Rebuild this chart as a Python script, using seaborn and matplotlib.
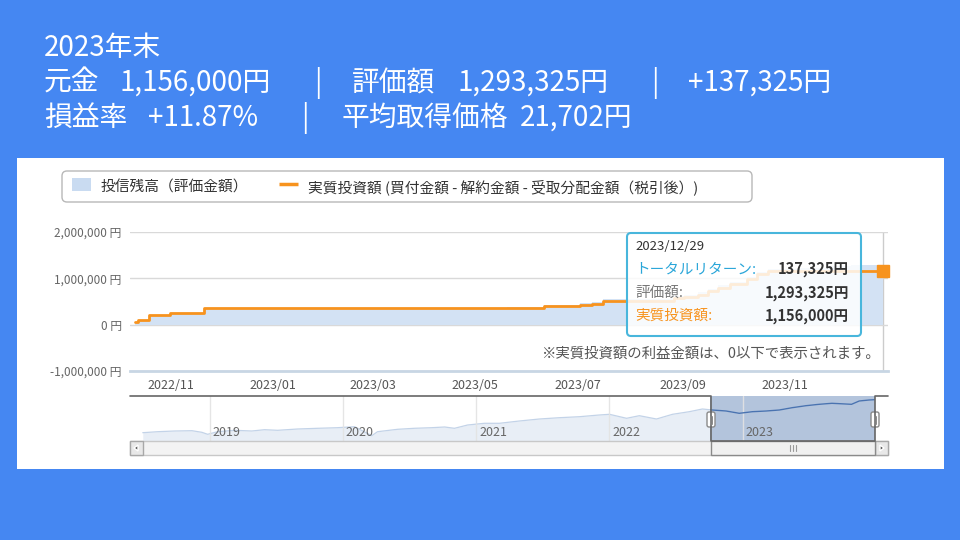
import matplotlib
matplotlib.use("Agg")
import numpy as np
import pandas as pd
import matplotlib.pyplot as plt
import matplotlib.dates as mdates
from matplotlib.patches import Rectangle, FancyBboxPatch, Polygon
from matplotlib.ticker import FuncFormatter
import seaborn as sns

# ---------------- data ----------------
invest_dates = ["2022-10-11", "2022-10-13", "2022-10-19", "2022-11-01", "2022-11-21",
                "2023-06-11", "2023-07-02", "2023-07-09", "2023-07-16", "2023-08-27",
                "2023-09-02", "2023-09-10", "2023-09-16", "2023-09-22", "2023-09-29",
                "2023-10-09", "2023-10-15", "2023-10-22", "2023-12-29"]
invest_values = [50000, 100000, 200000, 250000, 350000,
                 400000, 430000, 450000, 500000, 570000,
                 590000, 650000, 720000, 800000, 880000,
                 980000, 1090000, 1156000, 1156000]

value_dates = ["2022-10-11", "2022-10-13", "2022-10-19", "2022-11-01", "2022-11-21",
               "2022-12-20", "2023-01-20", "2023-02-20", "2023-03-20", "2023-04-20",
               "2023-05-20", "2023-06-11", "2023-07-02", "2023-07-09", "2023-07-16",
               "2023-08-15", "2023-08-27", "2023-09-02", "2023-09-10", "2023-09-16",
               "2023-09-22", "2023-09-29", "2023-10-09", "2023-10-15", "2023-10-22",
               "2023-11-10", "2023-11-25", "2023-12-10", "2023-12-29"]
value_values = [50000, 100000, 200000, 252000, 355000,
                345000, 352000, 360000, 355000, 366000,
                378000, 432000, 472000, 494000, 545000,
                550000, 615000, 630000, 700000, 770000,
                850000, 925000, 1030000, 1140000, 1200000,
                1230000, 1265000, 1280000, 1293325]

nav_dates = ["2018-07-01", "2018-08-11", "2018-09-27", "2018-11-13", "2018-12-10", "2018-12-26",
             "2019-01-22", "2019-03-10", "2019-04-26", "2019-05-31", "2019-07-06", "2019-08-30",
             "2019-10-24", "2019-12-17", "2020-02-02", "2020-03-20", "2020-04-05", "2020-05-30",
             "2020-07-15", "2020-08-31", "2020-10-06", "2020-11-02", "2020-12-08", "2021-01-23",
             "2021-03-05", "2021-04-29", "2021-06-23", "2021-08-17", "2021-10-11", "2021-12-04",
             "2022-01-01", "2022-02-17", "2022-03-24", "2022-05-10", "2022-06-23", "2022-08-08",
             "2022-09-13", "2022-10-10", "2022-11-17", "2022-12-23", "2023-01-28", "2023-03-07",
             "2023-04-12", "2023-05-17", "2023-06-24", "2023-07-30", "2023-09-03", "2023-10-27",
             "2023-11-17", "2023-12-14", "2023-12-29"]
nav_values = [11320, 11720, 12000, 12120, 11480, 10680,
              11720, 12280, 12000, 12520, 12280, 12800,
              13080, 13320, 13720, 10120, 11720, 12680,
              13080, 13320, 13600, 13080, 14400, 15080,
              15080, 16000, 16800, 17320, 17720, 18400,
              18680, 17080, 18120, 16800, 18680, 19720,
              20800, 20400, 20000, 19080, 19720, 20000,
              20400, 21320, 22120, 22680, 23080, 22680,
              24000, 24400, 24520]

month_ticks = ["2022-11-01", "2023-01-01", "2023-03-01", "2023-05-01",
               "2023-07-01", "2023-09-01", "2023-11-01"]
month_labels = ["2022/11", "2023/01", "2023/03", "2023/05", "2023/07", "2023/09", "2023/11"]
y_ticks = [-1000000, 0, 1000000, 2000000]
nav_years = ["2019", "2020", "2021", "2022", "2023"]

title_line1 = "2023年末"
line2 = [("元金", 44), ("1,156,000円", 120), ("|", 318), ("評価額", 352),
         ("1,293,325円", 458), ("|", 655), ("+137,325円", 688)]
line3 = [("損益率", 44), ("+11.87%", 148), ("|", 305), ("平均取得価格", 342), ("21,702円", 520)]

legend_labels = ["投信残高（評価金額）", "実質投資額 (買付金額 - 解約金額 - 受取分配金額（税引後）)"]
tooltip_date = "2023/12/29"
tooltip_rows = [("トータルリターン:", "137,325円"), ("評価額:", "1,293,325円"), ("実質投資額:", "1,156,000円")]
note_text = "※実質投資額の利益金額は、0以下で表示されます。"

# ---------------- style ----------------
BLUE = "#4587f2"
ORANGE = "#f7931e"
AREA = "#d3e2f4"

sns.set_theme(style="white")
plt.rcParams['font.family'] = ['Noto Sans CJK JP', 'DejaVu Sans']

W, H = 960, 540
fig = plt.figure(figsize=(9.6, 5.4), dpi=100)
fig.patch.set_facecolor(BLUE)


def fax(l, t, r, b, z=1):
    a = fig.add_axes([l / W, 1 - b / H, (r - l) / W, (b - t) / H])
    a.set_zorder(z)
    return a


def pixel_axes(z):
    a = fig.add_axes([0, 0, 1, 1])
    a.set_zorder(z)
    a.set_xlim(0, W)
    a.set_ylim(H, 0)
    a.axis("off")
    a.patch.set_alpha(0)
    return a


bg = pixel_axes(0)
top = pixel_axes(5)

# white screenshot panel
bg.add_patch(Rectangle((17, 158), 927, 311, fc="white", ec="none"))

# header text
bg.text(44, 48, title_line1, color="white", fontsize=20, va="center", ha="left")
for s, x in line2:
    bg.text(x, 83, s, color="white", fontsize=20, va="center",
            ha="center" if s == "|" else "left")
for s, x in line3:
    bg.text(x, 118, s, color="white", fontsize=20, va="center",
            ha="center" if s == "|" else "left")

# legend box
bg.add_patch(FancyBboxPatch((62, 171), 690, 31, boxstyle="round,pad=0,rounding_size=5",
                            fc="white", ec="#b8b8b8", lw=1))
bg.add_patch(Rectangle((72, 178), 19, 13, fc="#c9dbf1", ec="none"))
bg.text(101, 187.5, legend_labels[0], fontsize=10.6, color="#333333", va="center")
bg.plot([279, 298], [183.5, 183.5], color=ORANGE, lw=2.5, solid_capstyle="butt")
bg.text(308, 187.5, legend_labels[1], fontsize=10.6, color="#333333", va="center")

# ---------------- main chart ----------------
ax = fax(130, 232, 888, 371, z=2)
ax.patch.set_alpha(0)
vd = pd.to_datetime(value_dates)
ax.fill_between(vd, 0, value_values, step="post", color=AREA, lw=0, zorder=1)
df_inv = pd.DataFrame({"date": pd.to_datetime(invest_dates), "value": invest_values})
sns.lineplot(data=df_inv, x="date", y="value", ax=ax, drawstyle="steps-post",
             color=ORANGE, lw=2.0, zorder=3)
last_date = pd.Timestamp(invest_dates[-1])
ax.axvline(last_date, color="#cccccc", lw=1, zorder=0.5)
ax.plot([last_date], [invest_values[-1]], "s", ms=8, color=ORANGE, clip_on=False, zorder=6)

ax.set_xlim(pd.Timestamp("2022-10-08"), pd.Timestamp("2024-01-01"))
ax.set_ylim(-1000000, 2000000)
ax.set_yticks(y_ticks)
ax.yaxis.set_major_formatter(FuncFormatter(lambda v, p: f"{v:,.0f} 円"))
ax.set_xticks(pd.to_datetime(month_ticks))
ax.set_xticklabels(month_labels)
ax.set_xlabel("")
ax.set_ylabel("")
ax.tick_params(axis="x", length=5, color="#c0d0e0", width=1, pad=0.5, labelsize=9,
               labelcolor="#555555", direction="out")
ax.tick_params(axis="y", length=0, pad=6, labelsize=8.5, labelcolor="#666666")
ax.yaxis.grid(True, color="#d9d9d9", lw=1)
ax.xaxis.grid(False)
for s in ["top", "right", "left"]:
    ax.spines[s].set_visible(False)
ax.spines["bottom"].set_color("#c8d6e4")
ax.spines["bottom"].set_linewidth(2)

bg.text(880, 354, note_text, fontsize=10.4, color="#555555", ha="right", va="center")

# ---------------- navigator ----------------
axn = fax(130, 396, 888, 441, z=2)
axn.patch.set_alpha(0)
nd = pd.to_datetime(nav_dates)
axn.fill_between(nd, 8000, nav_values, color="#e8eef6", lw=0, zorder=0.5)
df_nav = pd.DataFrame({"date": nd, "nav": nav_values})
sns.lineplot(data=df_nav, x="date", y="nav", ax=axn, color="#c3d3e8", lw=0.9, zorder=2)
sel_start = pd.Timestamp("2022-10-04")
sel_end = pd.Timestamp("2023-12-29")
axn.axvspan(sel_start, sel_end, color="#b3c4dc", lw=0, zorder=1)
dark = axn.plot(nd, nav_values, color="#4a73b0", lw=1.0, zorder=3)[0]
clip = Rectangle((mdates.date2num(sel_start), 0),
                 mdates.date2num(sel_end) - mdates.date2num(sel_start), 1e6,
                 transform=axn.transData)
dark.set_clip_path(clip)
for y in nav_years:
    d = pd.Timestamp(f"{y}-01-01")
    axn.axvline(d, color="#e3e3e3", lw=1, zorder=2.5, alpha=0.9)
    axn.annotate(y, xy=(d, 0.18), xycoords=("data", "axes fraction"), xytext=(3, 0),
                 textcoords="offset pixels", va="center", ha="left", fontsize=9,
                 color="#666666", zorder=4)
axn.set_xlim(pd.Timestamp("2018-05-27"), pd.Timestamp("2024-02-04"))
axn.set_ylim(8000, 26000)
axn.set_xticks([])
axn.set_yticks([])
axn.set_xlabel("")
axn.set_ylabel("")
for s in axn.spines.values():
    s.set_visible(False)

# scrollbar
top.add_patch(Rectangle((130, 441), 758, 14, fc="#f3f3f3", ec="#c8c8c8", lw=1))
top.add_patch(Rectangle((130, 441), 13, 14, fc="#e8e8e8", ec="#a8a8a8", lw=1))
top.add_patch(Rectangle((875, 441), 13, 14, fc="#e8e8e8", ec="#a8a8a8", lw=1))
top.add_patch(Polygon([[138, 445], [138, 451], [134, 448]], closed=True, fc="#555555"))
top.add_patch(Polygon([[880, 445], [880, 451], [884, 448]], closed=True, fc="#555555"))
top.add_patch(Rectangle((711, 441), 164, 14, fc="#f0f0f0", ec="#8a8a8a", lw=1))
for gx in [790, 793, 796]:
    top.plot([gx, gx], [445, 451], color="#999999", lw=0.8)

# navigator outline
top.plot([130, 711, 711, 875, 875, 888], [396, 396, 441, 441, 396, 396], color="#666666", lw=1.2)
# handles
for hx in [711, 875]:
    top.add_patch(FancyBboxPatch((hx - 4, 412), 8, 15, boxstyle="round,pad=0,rounding_size=2",
                                 fc="white", ec="#8a8a8a", lw=1))
    for lx in [hx - 1, hx + 1]:
        top.plot([lx, lx], [415.5, 423.5], color="#8a8a8a", lw=0.7)

# ---------------- tooltip ----------------
top.add_patch(FancyBboxPatch((627, 233), 234, 103, boxstyle="round,pad=0,rounding_size=4",
                             fc=(1, 1, 1, 0.83), ec="#48b6dc", lw=1.5))
top.text(635, 246, tooltip_date, fontsize=9.5, color="#333333", va="center")
row_y = [269, 293, 316]
row_colors = ["#2aa6d9", "#777777", ORANGE]
for (lab, val), yy, c in zip(tooltip_rows, row_y, row_colors):
    top.text(635, yy, lab, fontsize=10.5, color=c, va="center")
    top.text(849, yy, val, fontsize=10.5, color="#333333", va="center", ha="right",
             fontweight="bold")

fig.savefig("out.png", dpi=100, facecolor=fig.get_facecolor())
